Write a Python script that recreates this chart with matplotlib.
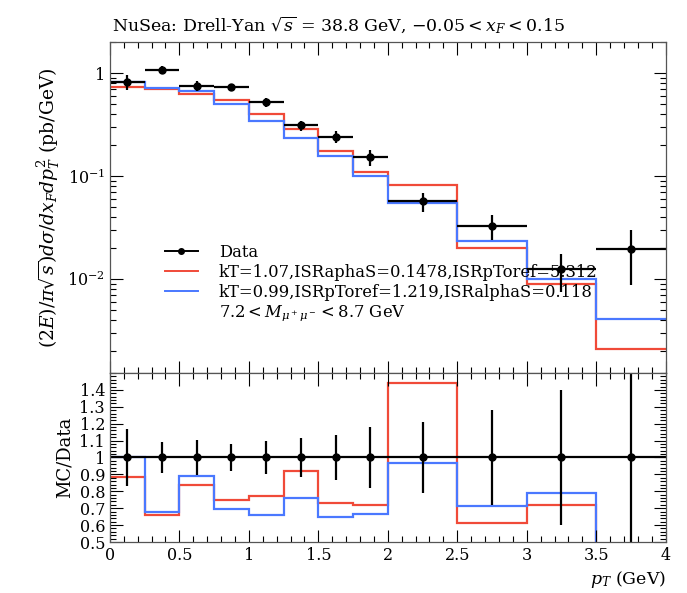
import numpy as np
import matplotlib
matplotlib.use("Agg")
import matplotlib.pyplot as plt
from matplotlib.ticker import MultipleLocator, FixedLocator
from matplotlib.lines import Line2D

plt.rcParams['font.family'] = ['DejaVu Serif']
plt.rcParams['mathtext.fontset'] = 'dejavuserif'

# bin edges (GeV)
edges = [0, 0.25, 0.5, 0.75, 1.0, 1.25, 1.5, 1.75, 2.0, 2.5, 3.0, 3.5, 4.0]

# NuSea data
data = [0.82, 1.07, 0.75, 0.73, 0.52, 0.31, 0.24, 0.152, 0.057, 0.033, 0.0125, 0.0195]
data_err = [0.14, 0.10, 0.079, 0.057, 0.050, 0.036, 0.032, 0.027, 0.012, 0.0092, 0.005, 0.0107]

# MC predictions
mc_red = [0.725, 0.707, 0.628, 0.548, 0.402, 0.286, 0.175, 0.109, 0.082, 0.0202, 0.0090, 0.0021]
mc_blue = [0.824, 0.724, 0.666, 0.506, 0.343, 0.236, 0.155, 0.101, 0.055, 0.0235, 0.0099, 0.0041]

label_red = 'kT=1.07,ISRaphaS=0.1478,ISRpToref=5.312'
label_blue = 'kT=0.99,ISRpToref=1.219,ISRalphaS=0.118'

xticks = [0, 0.5, 1, 1.5, 2, 2.5, 3, 3.5, 4]
xticklabels = ['0', '0.5', '1', '1.5', '2', '2.5', '3', '3.5', '4']
rticks = [0.5, 0.6, 0.7, 0.8, 0.9, 1.0, 1.1, 1.2, 1.3, 1.4]
rticklabels = ['0.5', '0.6', '0.7', '0.8', '0.9', '1', '1.1', '1.2', '1.3', '1.4']

RED = '#f04a38'
BLUE = '#4a78ff'

e = np.array(edges)
x = 0.5 * (e[1:] + e[:-1])
xw = 0.5 * (e[1:] - e[:-1])
d = np.array(data)
de = np.array(data_err)

fig = plt.figure(figsize=(6.87, 5.93), dpi=100)
ax = fig.add_axes([0.160, 0.371, 0.809, 0.558])
rax = fig.add_axes([0.160, 0.086, 0.809, 0.285])

ax.stairs(mc_red, e, baseline=None, color=RED, lw=1.6)
ax.stairs(mc_blue, e, baseline=None, color=BLUE, lw=1.6)
ax.errorbar(x, d, yerr=de, xerr=xw, fmt='o', color='black', ms=5, elinewidth=1.6, capsize=0)
ax.set_yscale('log')
ax.set_ylim(1.22e-3, 2.0)
ax.set_xlim(0, 4)
ax.set_xticks(xticks)
ax.xaxis.set_minor_locator(MultipleLocator(0.1))
ax.yaxis.set_major_locator(FixedLocator([1e-2, 1e-1, 1]))
ax.set_yticklabels(['$10^{-2}$', '$10^{-1}$', '1'])
ax.tick_params(labelbottom=False)
ax.set_ylabel(r'$(2E)/\pi\sqrt{s})d\sigma/dx_Fdp_T^2$ (pb/GeV)', fontsize=13.5)
fig.text(0.163, 0.975, r'NuSea: Drell-Yan $\sqrt{s}$ = 38.8 GeV, $-0.05 < x_F < 0.15$',
         fontsize=12.5, va='top', ha='left')

handles = [
    Line2D([], [], color='black', marker='o', ms=4, lw=1.4),
    Line2D([], [], color=RED, lw=1.4),
    Line2D([], [], color=BLUE, lw=1.4),
    Line2D([], [], color='none'),
]
labels = ['Data', label_red, label_blue, r'$7.2 < M_{\mu^+\mu^-} < 8.7$ GeV']
ax.legend(handles, labels, loc='upper left', bbox_to_anchor=(0.099, 0.39), frameon=False,
          fontsize=11.8, handlelength=2.0, handletextpad=1.3, labelspacing=0.17,
          borderpad=0, borderaxespad=0)

# ratio panel
rax.stairs(np.array(mc_red) / d, e, baseline=None, color=RED, lw=1.6)
rax.stairs(np.array(mc_blue) / d, e, baseline=None, color=BLUE, lw=1.6)
rax.errorbar(x, np.ones_like(d), yerr=de / d, xerr=xw, fmt='o', color='black', ms=5,
             elinewidth=1.6, capsize=0)
rax.set_ylim(0.5, 1.5)
rax.set_xlim(0, 4)
rax.set_yticks(rticks)
rax.set_yticklabels(rticklabels)
rax.yaxis.set_minor_locator(MultipleLocator(0.02))
rax.set_xticks(xticks)
rax.set_xticklabels(xticklabels)
rax.xaxis.set_minor_locator(MultipleLocator(0.1))
rax.set_ylabel('MC/Data', fontsize=13)
rax.set_xlabel('$p_T$ (GeV)', fontsize=12.5, loc='right')

for a in (ax, rax):
    a.tick_params(which='both', direction='in', top=True, right=True, labelsize=11.5)
    a.tick_params(which='major', length=9, width=0.8)
    a.tick_params(which='minor', length=4.5, width=0.8)
    for s in a.spines.values():
        s.set_linewidth(0.9)
        s.set_color('#555555')

fig.savefig('out.png', dpi=100)
